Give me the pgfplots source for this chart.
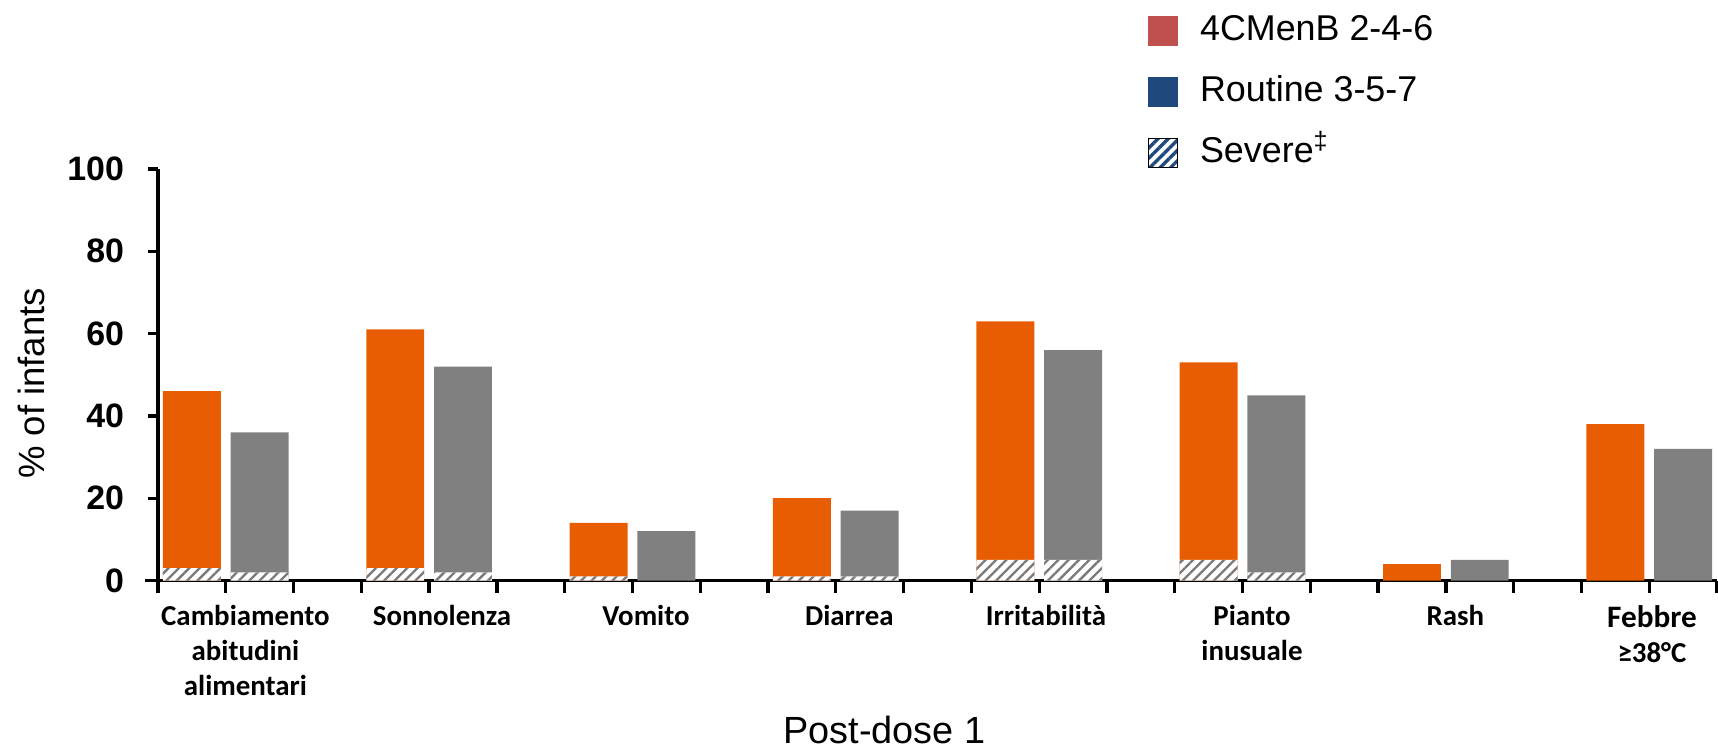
\documentclass[border=0pt]{standalone}
\usepackage{pgfplots}
\pgfplotsset{compat=1.18}
\usetikzlibrary{patterns,patterns.meta}
\usepackage{fontspec}
\setmainfont{Liberation Sans}
\newfontfamily\calfont{Carlito}
\definecolor{corange}{HTML}{E85D02}
\definecolor{cgray}{HTML}{808080}
\definecolor{cred}{HTML}{C0504D}
\definecolor{cblue}{HTML}{1F497D}
\definecolor{chatch}{HTML}{7A7A7A}
\begin{document}
\begin{tikzpicture}
\path[use as bounding box] (-47.4bp,-49.95bp) rectangle (468bp,174.15bp);
\begin{axis}[
  scale only axis, width=467.7bp, height=123.45bp,
  xmin=0, xmax=23, ymin=0, ymax=100,
  axis x line=bottom, axis y line=left,
  axis line style={line width=1bp, -},
  x axis line style={shorten <=-3.9bp},
  tick align=outside,
  major tick length=3bp, minor tick length=3.6bp,
  tick style={black, line width=1bp},
  major x tick style={draw=none},
  ytick={0,20,40,60,80,100},
  /pgf/number format/assume math mode=true,
  yticklabel style={font=\fontsize{10.2}{12}\selectfont\bfseries, xshift=-3.7bp},
  xtick={1.29,4.19,7.2,10.2,13.1,16.14,19.14,22.04},
  minor xtick={0,1,...,23},
  xticklabels={{Cambiamento\\abitudini\\alimentari},Sonnolenza,Vomito,Diarrea,Irritabilità,{Pianto\\inusuale},Rash,{\fontsize{9.4}{11}\selectfont Febbre\\≥38°C}},
  xticklabel style={font=\calfont\bfseries\fontsize{8.7}{10.5}\selectfont, align=center, anchor=north, yshift=-1bp},
  ylabel={\% of infants},
  ylabel style={at={(axis description cs:-0.0815,0.479)}, anchor=center, font=\fontsize{11}{13}\selectfont},
  xlabel={Post-dose 1},
  xlabel style={at={(axis description cs:0.466,-0.362)}, anchor=center, font=\fontsize{11.4}{13}\selectfont},
  legend style={at={(axis description cs:0.634,1.377)}, anchor=north west, draw=none, fill=none, inner sep=0pt,
    font=\fontsize{10.8}{13}\selectfont, row sep=8.3bp,
    nodes={inner sep=0pt, text height=7.8bp, text depth=2.2bp}},
  legend cell align=left,
  clip=false,
]
\addlegendimage{legend image code/.code={\fill[cred] (0bp,-4.35bp) rectangle (8.7bp,4.35bp); \path (15.2bp,0bp);}}
\addlegendentry{4CMenB 2-4-6}
\addlegendimage{legend image code/.code={\fill[cblue] (0bp,-4.35bp) rectangle (8.7bp,4.35bp); \path (15.2bp,0bp);}}
\addlegendentry{Routine 3-5-7}
\addlegendimage{legend image code/.code={\fill[white] (0bp,-4.35bp) rectangle (8.7bp,4.35bp); \fill[pattern={Lines[angle=45,distance=2.2bp,line width=1bp]}, pattern color=cblue] (0bp,-4.35bp) rectangle (8.7bp,4.35bp); \path (15.2bp,0bp);}}
\addlegendentry{Severe\textsuperscript{‡}}

% 4CMenB 2-4-6 (orange)
\addplot[ybar, bar width=0.855, bar shift=0pt, fill=corange, draw=none, forget plot] coordinates {
 (0.5,46) (3.5,61) (6.5,14) (9.5,20) (12.5,63) (15.5,53) (18.5,4) (21.5,38)};
% Routine 3-5-7 (gray)
\addplot[ybar, bar width=0.855, bar shift=0pt, fill=cgray, draw=none, forget plot] coordinates {
 (1.5,36) (4.5,52) (7.5,12) (10.5,17) (13.5,56) (16.5,45) (19.5,5) (22.5,32)};
% Severe, 4CMenB
\addplot[ybar, bar width=0.855, bar shift=0pt, fill=white, draw=none, forget plot,
  postaction={pattern={Lines[angle=45,distance=2.2bp,line width=0.7bp]}, pattern color=chatch}] coordinates {
 (0.5,3) (3.5,3) (6.5,1) (9.5,1) (12.5,5) (15.5,5)};
% Severe, Routine
\addplot[ybar, bar width=0.855, bar shift=0pt, fill=white, draw=none, forget plot,
  postaction={pattern={Lines[angle=45,distance=2.2bp,line width=0.7bp]}, pattern color=chatch}] coordinates {
 (1.5,2) (4.5,2) (10.5,1) (13.5,5) (16.5,2)};
\end{axis}
\end{tikzpicture}
\end{document}
